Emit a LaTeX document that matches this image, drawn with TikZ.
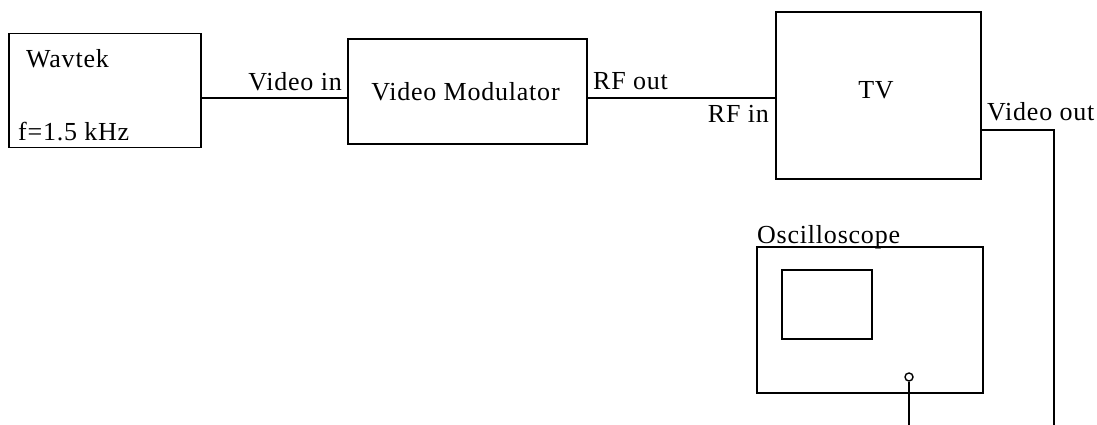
\documentclass[tikz,border=0pt]{standalone}
\usepackage{fontspec}
\setmainfont{Liberation Serif}[LetterSpace=3]
\begin{document}
\begin{tikzpicture}[x=1pt,y=-1pt,
  box/.style={draw,line width=1.6pt,minimum width=#1,inner sep=0pt,outer sep=0pt},
  lbl/.style={inner sep=0pt,font=\fontsize{26}{28}\selectfont},
  wire/.style={line width=1.6pt}]
\useasboundingbox (0,0) rectangle (1097,425);
% boxes
\node[box=192pt,minimum height=114pt] (wav) at (105,90.5) {};
\node[box=239pt,minimum height=105pt] (vm) at (467.5,91.5) {};
\node[box=205pt,minimum height=167pt] (tv) at (878.5,95.5) {};
\node[box=226pt,minimum height=146pt] (osc) at (870,320) {};
\node[box=90pt,minimum height=69pt] (scr) at (827,304.5) {};
\node[draw,circle,line width=1.4pt,minimum size=8pt,inner sep=0pt] (probe) at (909,377) {};
% coordinates
\coordinate (lineA) at (0,98);
\coordinate (lineB) at (0,130);
\coordinate (vo1) at (1054,130);
\coordinate (vo2) at (1054,425);
% wires
\draw[wire] (wav.east |- lineA) -- (vm.west |- lineA);
\draw[wire] (vm.east |- lineA) -- (tv.west |- lineA);
\draw[wire] (tv.east |- lineB) -- (vo1) -- (vo2);
\draw[wire] (probe.south) -- (probe.south |- vo2);
% labels
\node[lbl,anchor=base west] (t1) at (26,68) {Wavtek};
\node[lbl,anchor=base west] (t2) at (18,140) {f=1.5 kHz};
\node[lbl,anchor=base east] (t3) at (342,91) {Video in};
\node[lbl,anchor=base] (t4) at (465.5,101) {Video Modulator};
\node[lbl,anchor=base west] (t5) at (593,90) {RF out};
\node[lbl,anchor=base east] (t6) at (769,123) {RF in};
\node[lbl,anchor=base] (t7) at (876,99) {TV};
\node[lbl,anchor=base west] (t8) at (987,121) {Video out};
\node[lbl,anchor=base west] (t9) at (757,243) {Oscilloscope};
\end{tikzpicture}
\end{document}
